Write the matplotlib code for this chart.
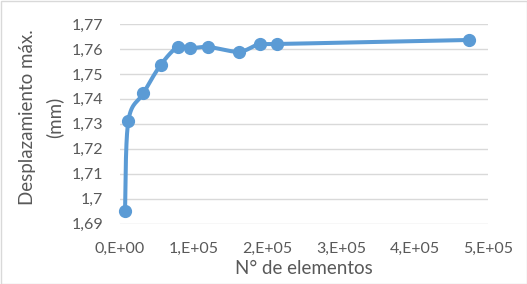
import numpy as np
import matplotlib
matplotlib.use('Agg')
import matplotlib.pyplot as plt
from matplotlib.ticker import FuncFormatter, MultipleLocator

# datos
elementos = [6800, 11300, 31700, 55300, 78400, 95100, 120000, 161700, 190200, 213700, 474200]
desplazamiento = [1.6952, 1.7311, 1.7422, 1.7536, 1.7608, 1.7603, 1.7608, 1.7589, 1.7621, 1.7620, 1.7636]

azul = '#5B9BD5'
gris_txt = '#595959'

plt.rcParams['font.family'] = ['Lato', 'DejaVu Sans']

fig = plt.figure(figsize=(5.27, 2.84), dpi=100)
ax = fig.add_axes([120/527, 1 - 223.7/284, 368/527, 199.7/284])

xmin, xmax = 0, 5e5
ymin, ymax = 1.69, 1.77
ax.set_xlim(xmin, xmax)
ax.set_ylim(ymin, ymax)

# curva suavizada tipo Excel (Catmull-Rom en coordenadas de pantalla)
W, H = 368.0, 199.7
px = (np.array(elementos) - xmin) / (xmax - xmin) * W
py = (np.array(desplazamiento) - ymin) / (ymax - ymin) * H
P = np.column_stack([px, py])
Pext = np.vstack([P[0], P, P[-1]])
curva = []
t = np.linspace(0, 1, 30)[:, None]
for i in range(len(P) - 1):
    p0, p3 = P[i], P[i + 1]
    c1 = p0 + (Pext[i + 2] - Pext[i]) / 6
    c2 = p3 - (Pext[i + 3] - Pext[i + 1]) / 6
    b = ((1 - t) ** 3) * p0 + 3 * ((1 - t) ** 2) * t * c1 + 3 * (1 - t) * t ** 2 * c2 + t ** 3 * p3
    curva.append(b)
curva = np.vstack(curva)
cx = curva[:, 0] / W * (xmax - xmin) + xmin
cy = curva[:, 1] / H * (ymax - ymin) + ymin

ax.plot(cx, cy, color=azul, lw=2.9, solid_capstyle='round', zorder=3, clip_on=False)
ax.plot(elementos, desplazamiento, 'o', color=azul, markersize=8.5, zorder=4, clip_on=False)

ax.xaxis.set_major_locator(MultipleLocator(1e5))
ax.yaxis.set_major_locator(MultipleLocator(0.01))
ax.xaxis.set_major_formatter(FuncFormatter(lambda v, p: '%d,E+%02d' % (round(v / 1e5), 5) if v > 0 else '0,E+00'))
ax.yaxis.set_major_formatter(FuncFormatter(lambda v, p: ('%g' % round(v, 2)).replace('.', ',')))

ax.grid(axis='y', color='#D9D9D9', lw=1.0)
ax.set_axisbelow(True)
for s in ax.spines.values():
    s.set_visible(False)
ax.tick_params(axis='both', length=0, labelsize=11.5, colors=gris_txt)
ax.tick_params(axis='y', pad=12)
ax.tick_params(axis='x', pad=13)

fig.text(304/527, 1 - 268/284, 'N° de elementos', ha='center', va='center', fontsize=13.5, color=gris_txt)
fig.text(27.5/527, 1 - 117/284, 'Desplazamiento máx.', ha='center', va='center', rotation=90, fontsize=13.5, color=gris_txt)
fig.text(54/527, 1 - 117/284, '(mm)', ha='center', va='center', rotation=90, fontsize=13.5, color=gris_txt)

# borde exterior
fig.patches.append(plt.Rectangle((0.5/527, 0.5/284), 1 - 1/527, 1 - 1/284, transform=fig.transFigure,
                                 fill=False, edgecolor='#D9D9D9', lw=1))

fig.savefig('out.png', dpi=100)
